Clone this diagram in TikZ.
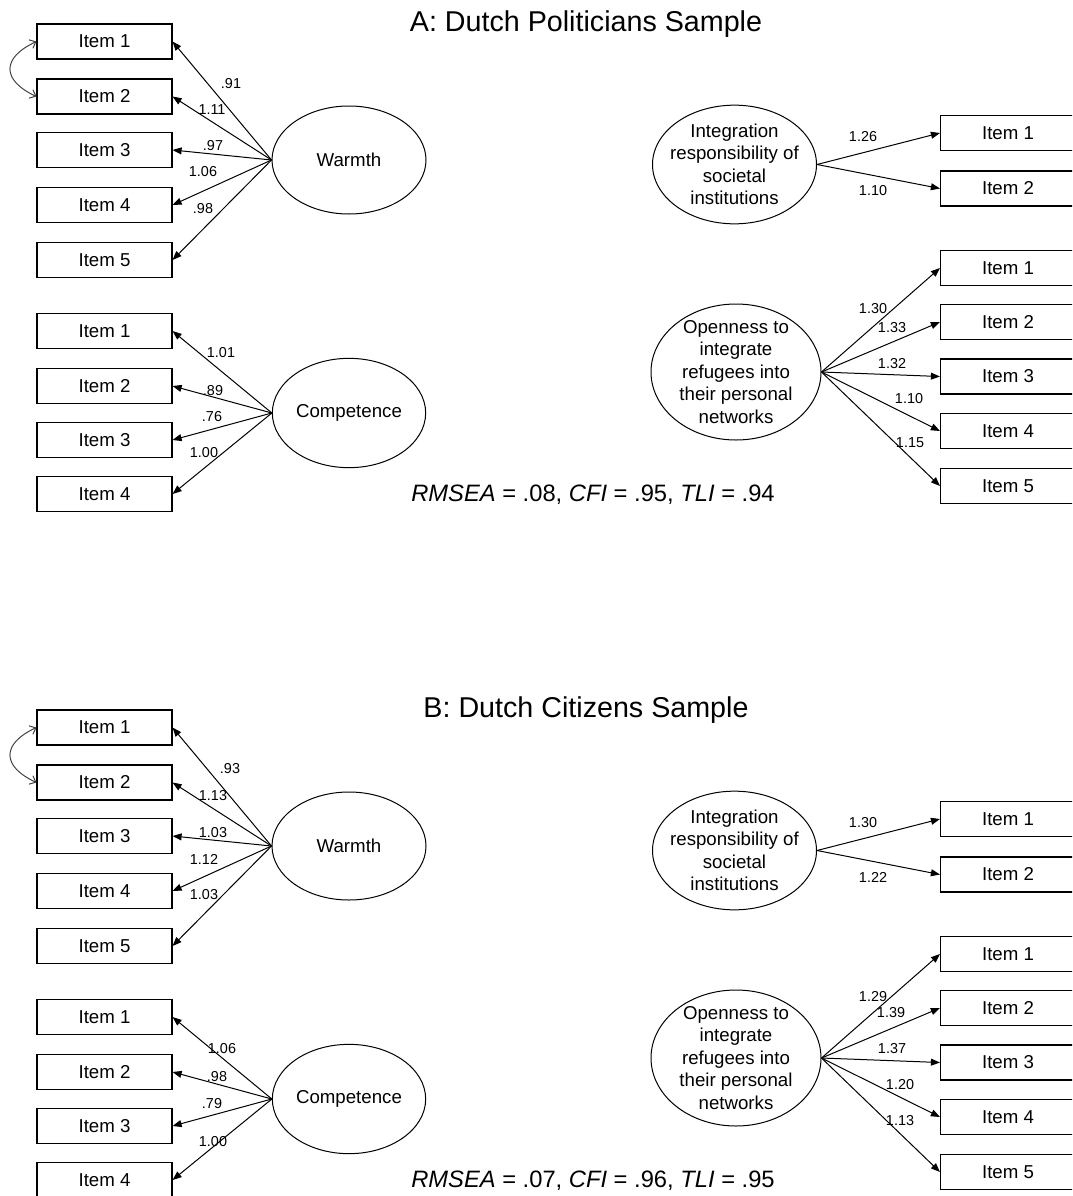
\documentclass[tikz,border=0pt]{standalone}
\usepackage{fontspec}
\setmainfont{Liberation Sans}
\usepackage{tikz}
\usetikzlibrary{arrows.meta, shapes.geometric}

\tikzset{
  item/.style={draw, rectangle, line width=0.8pt, minimum width=101.25pt,
    minimum height=26.25pt, inner sep=0pt, font=\fontsize{14}{16}\selectfont},
  latent/.style={draw, ellipse, line width=0.75pt, inner sep=-8pt, align=center,
    font=\fontsize{14}{16.9}\selectfont},
  load/.style={line width=0.75pt, -{Triangle[length=6.8pt,width=5.2pt]}},
  lbl/.style={inner sep=0pt, font=\fontsize{10.8}{13}\selectfont},
  cov/.style={line width=0.75pt, black!75,
    {Straight Barb[length=4pt,width=7pt]}-{Straight Barb[length=4pt,width=7pt]}},
  paneltitle/.style={font=\fontsize{21.5}{25}\selectfont},
  fitline/.style={font=\fontsize{17.8}{21}\selectfont},
}

% one CFA panel: tag, y offset (px), title, fit indices,
% then loading/x/y lists for warmth, competence, integration, openness
\newcommand{\sempanel}[8]{%
\begin{scope}[shift={(0,#2)}]
  \node[paneltitle] (#1title) at (586,24) {#3};
  % latent factors
  \node[latent, minimum width=115.5pt, minimum height=81pt] (#1warm) at (349,160) {Warmth};
  \node[latent, minimum width=115pt, minimum height=82pt] (#1comp) at (349,413) {Competence};
  \node[latent, minimum width=123pt, minimum height=89pt] (#1integ) at (734.5,164.5)
    {Integration\\responsibility of\\societal\\institutions};
  \node[latent, minimum width=127.5pt, minimum height=102pt] (#1open) at (736,372)
    {Openness to\\integrate\\refugees into\\their personal\\networks};
  % indicators
  \foreach \i/\y in {1/41.5, 2/96.5, 3/150, 4/205, 5/260}
    \node[item] (#1w\i) at (104.5,\y) {Item \i};
  \foreach \i/\y in {1/331, 2/386, 3/440, 4/494}
    \node[item] (#1c\i) at (104.5,\y) {Item \i};
  \foreach \i/\y in {1/133, 2/188.5}
    \node[item] (#1r\i) at (1008,\y) {Item \i};
  \foreach \i/\y in {1/268, 2/322, 3/376.5, 4/431, 5/486}
    \node[item] (#1o\i) at (1008,\y) {Item \i};
  % loadings
  \foreach \v/\lx/\ly [count=\i] in {#5} {
    \draw[load] (#1warm.west) -- (#1w\i.east);
    \node[lbl] (#1wl\i) at (\lx,\ly) {\v};
  }
  \foreach \v/\lx/\ly [count=\i] in {#6} {
    \draw[load] (#1comp.west) -- (#1c\i.east);
    \node[lbl] (#1cl\i) at (\lx,\ly) {\v};
  }
  \foreach \v/\lx/\ly [count=\i] in {#7} {
    \draw[load] (#1integ.east) -- (#1r\i.west);
    \node[lbl] (#1rl\i) at (\lx,\ly) {\v};
  }
  \foreach \v/\lx/\ly [count=\i] in {#8} {
    \draw[load] (#1open.east) -- (#1o\i.west);
    \node[lbl] (#1ol\i) at (\lx,\ly) {\v};
  }
  % residual covariance item 1 -- item 2
  \draw[cov] (#1w1.west) to[out=205, in=155, looseness=1.8] (#1w2.west);
  \node[fitline] (#1fit) at (593,495) {#4};
\end{scope}}

\begin{document}
\begin{tikzpicture}[x=0.75pt, y=-0.75pt]
  \useasboundingbox (0,0) rectangle (1072,1196);
  \clip (0,0) rectangle (1072,1196);
  % A: politicians
  \sempanel{A}{0}{A: Dutch Politicians Sample}
    {\textit{RMSEA} = .08, \textit{CFI} = .95, \textit{TLI} = .94}
    {.91/231/84, 1.11/212/110, .97/213/146, 1.06/203/172, .98/203/209}
    {1.01/221/353, .89/213/391, .76/212/417, 1.00/204/453}
    {1.26/863/137, 1.10/873/191}
    {1.30/873/309, 1.33/892/328, 1.32/892/364, 1.10/909/399, 1.15/910/443}
  % B: citizens
  \sempanel{B}{686}{B: Dutch Citizens Sample}
    {\textit{RMSEA} = .07, \textit{CFI} = .96, \textit{TLI} = .95}
    {.93/230/83, 1.13/213/110, 1.03/213/147, 1.12/204/173, 1.03/204/209}
    {1.06/222/363, .98/217/391, .79/212/418, 1.00/213/456}
    {1.30/863/137, 1.22/873/191}
    {1.29/873/311, 1.39/891/327, 1.37/892/363, 1.20/900/399, 1.13/900/435}
\end{tikzpicture}
\end{document}
